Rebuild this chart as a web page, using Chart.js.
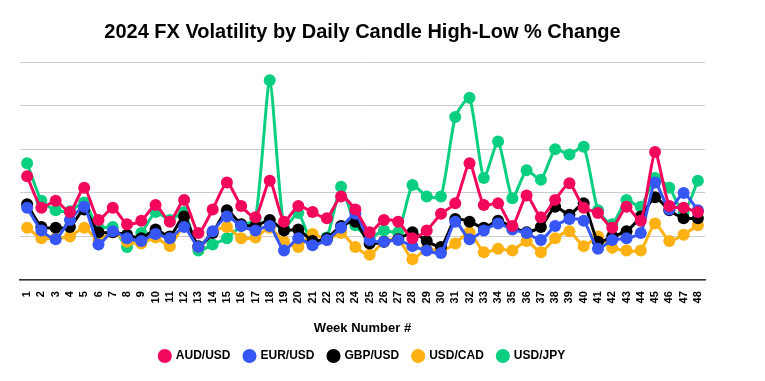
<!DOCTYPE html>
<html>
<head>
<meta charset="utf-8">
<script src="https://cdn.jsdelivr.net/npm/chart.js@4"></script>
<style>
  html, body { margin:0; padding:0; background:#fff; }
  #wrap { width:765px; height:381px; }
</style>
</head>
<body>
<div id="wrap"><canvas id="c"></canvas></div>
<script>
// weekly average of daily high-low range, %
const weeks = Array.from({length:48}, (_,i) => String(i+1));

const audusd = [1.19,0.83,0.91,0.78,1.06,0.69,0.83,0.64,0.68,0.86,0.67,0.92,0.54,0.81,1.12,0.85,0.72,1.14,0.67,0.85,0.78,0.71,0.96,0.81,0.55,0.69,0.67,0.48,0.57,0.76,0.88,1.34,0.86,0.88,0.62,0.97,0.72,0.92,1.11,0.83,0.77,0.60,0.84,0.68,1.47,0.85,0.83,0.78];
const eurusd = [0.83,0.57,0.47,0.69,0.84,0.41,0.56,0.48,0.45,0.53,0.48,0.61,0.38,0.56,0.73,0.62,0.57,0.62,0.34,0.48,0.40,0.46,0.60,0.76,0.46,0.44,0.46,0.39,0.34,0.31,0.67,0.47,0.57,0.65,0.58,0.54,0.46,0.62,0.70,0.68,0.36,0.46,0.48,0.54,1.12,0.81,1.00,0.80];
const gbpusd = [0.87,0.61,0.60,0.61,0.81,0.55,0.55,0.52,0.48,0.58,0.50,0.73,0.39,0.54,0.80,0.64,0.62,0.69,0.57,0.58,0.45,0.48,0.62,0.67,0.42,0.44,0.47,0.55,0.45,0.38,0.70,0.67,0.60,0.68,0.61,0.55,0.61,0.84,0.75,0.88,0.44,0.50,0.56,0.73,0.95,0.80,0.71,0.71];
const usdcad = [0.60,0.48,0.48,0.50,0.60,0.46,0.55,0.44,0.42,0.49,0.39,0.62,0.38,0.55,0.61,0.48,0.49,0.60,0.44,0.38,0.53,0.46,0.54,0.38,0.29,0.44,0.47,0.24,0.36,0.33,0.42,0.55,0.32,0.36,0.34,0.45,0.32,0.48,0.56,0.39,0.50,0.37,0.34,0.34,0.65,0.45,0.52,0.63];
const usdjpy = [1.34,0.91,0.80,0.79,0.89,0.60,0.61,0.38,0.54,0.78,0.69,0.78,0.34,0.41,0.48,0.62,0.70,2.29,0.60,0.77,0.41,0.49,1.07,0.63,0.49,0.57,0.55,1.09,0.96,0.96,1.87,2.09,1.17,1.59,0.94,1.26,1.15,1.50,1.44,1.53,0.80,0.64,0.92,0.84,1.17,1.06,0.77,1.14];

const font = "'Liberation Sans', Arial, sans-serif";

const series = [
  ['AUD/USD', audusd, '#f2075d'],
  ['EUR/USD', eurusd, '#3656f5'],
  ['GBP/USD', gbpusd, '#000000'],
  ['USD/CAD', usdcad, '#fdb112'],
  ['USD/JPY', usdjpy, '#0bcf80'],
];

new Chart(document.getElementById('c'), {
  type: 'line',
  data: {
    labels: weeks,
    datasets: series.map(([label, data, col]) => ({
      label, data, borderColor: col, backgroundColor: col,
      borderWidth: 3, pointRadius: 6, pointHoverRadius: 6, pointBorderWidth: 0,
      tension: 0.2, fill: false
    }))
  },
  options: {
    responsive: true, maintainAspectRatio: false, animation: false,
    layout: { padding: { left: 20, right: 60, top: 0, bottom: 9 } },
    scales: {
      x: {
        offset: true,
        grid: { display: false },
        border: { color: '#333', width: 1.5 },
        ticks: { color: '#000', font: { family: font, size: 11, weight: 'bold' }, maxRotation: 90, minRotation: 90, autoSkip: false, padding: 3 },
        title: { display: true, text: 'Week Number #', color: '#000', font: { family: font, size: 13, weight: 'bold' }, padding: { top: 14, bottom: 0 } }
      },
      y: {
        min: 0, max: 2.5,
        grid: { color: '#cccccc', drawTicks: false },
        border: { display: false },
        ticks: { display: false, stepSize: 0.5 }
      }
    },
    plugins: {
      title: { display: true, text: '2024 FX Volatility by Daily Candle High-Low % Change', color: '#000', font: { family: font, size: 20, weight: 'bold' }, padding: { top: 20, bottom: 18 } },
      legend: { position: 'bottom', labels: { usePointStyle: true, pointStyle: 'circle', boxWidth: 10, boxHeight: 10, padding: 14, color: '#000', font: { family: font, size: 12, weight: 'bold' } } },
      tooltip: { enabled: false }
    }
  }
});
</script>
</body>
</html>
